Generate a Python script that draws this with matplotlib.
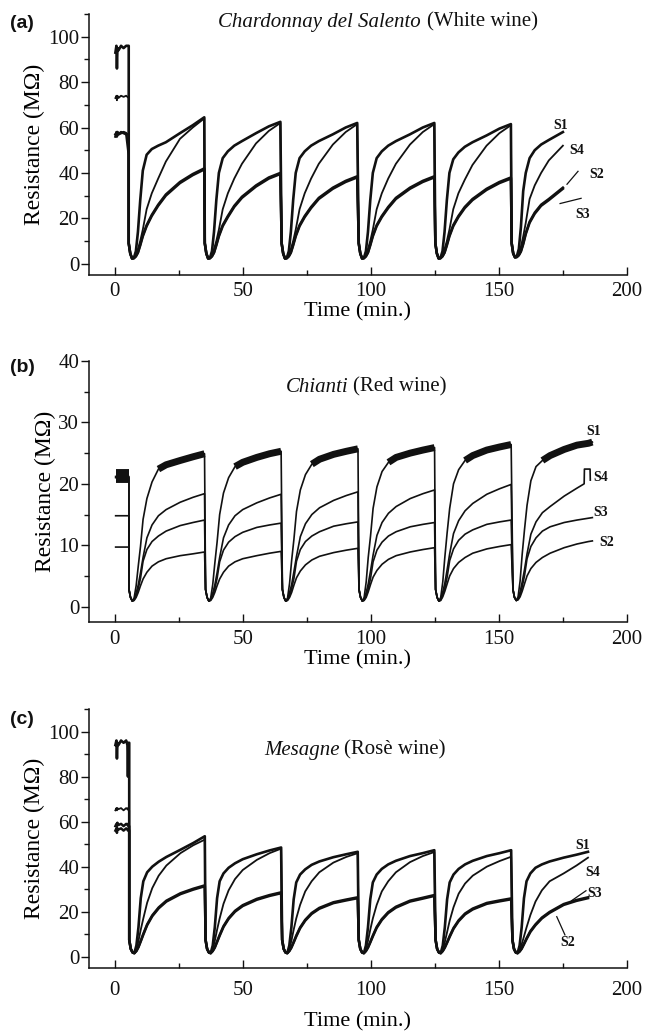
import matplotlib
matplotlib.use("Agg")
import matplotlib.pyplot as plt
from matplotlib.ticker import MultipleLocator

plt.rcParams["font.family"] = ["Liberation Serif", "DejaVu Serif"]

OFF = [0, 0.6, 1.3, 2.0, 2.8, 3.6, 4.5, 5.5, 7.0, 9.0, 11.5, 14.5, 20.0, 25.0, 29.5, 31.0]

# ---------------- (a) Chardonnay del Salento ----------------
A_T0 = [5.5, 35.2, 65.2, 95.3, 125.2, 155.0]
A_INIT_T = [0.3, 0.7, 0.9, 1.1, 1.5, 2.5, 3.5, 4.5, 5.5]
A_INIT = {
    "S1": [93, 96, 86, 95, 94, 96, 95, 96, 96],
    "S4": [73, 74, 72, 74, 73, 74, 73.5, 74, 73],
    "S2": [56, 58, 57, 58, 57, 58, 57.5, 57, 57],
    "S3": [57, 57.5, 56, 58, 57, 57.5, 58, 57.5, 48],
}
A_S1 = [
    [9, 4.5, 2.3, 2.5, 5.5, 14, 28, 41, 48, 50.5, 52, 53.5, 57.5, 61, 64.5],
    [9, 4.5, 2.3, 2.5, 5.5, 14, 28, 40, 46.5, 49.5, 52, 54, 57.5, 60.5, 62.5],
    [9, 4.5, 2.3, 2.5, 5.5, 14, 28, 40, 46.5, 49.5, 52, 54, 57, 60, 62],
    [9, 4.5, 2.3, 2.5, 5.5, 14, 28, 40, 46.5, 49.5, 52, 54, 57, 60, 62],
    [9, 4.5, 2.3, 2.5, 5.5, 14, 28, 40, 46, 49, 51.5, 53.5, 56.5, 59.5, 61.5],
    [9, 4.5, 2.8, 3.2, 6.5, 16, 32, 40, 46.5, 50, 52.5, 54.5, 58],
]
A_S4 = [
    [9, 4.5, 2.3, 2.6, 4, 6.5, 10, 15, 24, 31, 37.5, 45, 55, 60, 64],
    [9, 4.5, 2.3, 2.6, 4, 6.5, 10, 15, 24, 31, 37.5, 44, 53, 58.5, 62],
    [9, 4.5, 2.3, 2.6, 4, 6.5, 10, 15, 24, 31, 37.5, 44, 52.5, 58, 61.5],
    [9, 4.5, 2.3, 2.6, 4, 6.5, 10, 15, 24, 31, 37.5, 44, 52.5, 58, 61.5],
    [9, 4.5, 2.3, 2.6, 4, 6.5, 10, 15, 24, 31, 37, 43.5, 52, 57.5, 61],
    [9, 4.5, 2.8, 3, 4.5, 7.5, 12, 18, 28.5, 34.5, 40, 45.5, 52],
]
A_S2 = [
    [9, 4.5, 2.3, 2.4, 3.3, 5, 8.5, 12.5, 17, 21.5, 26, 30.5, 36, 39.5, 42],
    [9, 4.5, 2.3, 2.4, 3.3, 5, 8.5, 12.5, 17, 21, 25.5, 29.5, 34.5, 38, 40],
    [9, 4.5, 2.3, 2.4, 3.3, 5, 8.5, 12.5, 17, 21, 25, 29, 33.5, 36.5, 38.5],
    [9, 4.5, 2.3, 2.4, 3.3, 5, 8.5, 12.5, 17, 21, 25, 29, 33.5, 36.5, 38.5],
    [9, 4.5, 2.3, 2.4, 3.3, 5, 8.5, 12.5, 17, 21, 25, 28.5, 33, 36, 38],
    [9, 4.5, 2.8, 2.9, 3.8, 5.5, 9, 13.5, 18.5, 22.5, 26, 28.5, 33.5],
]
A_S3 = [
    [9, 4.5, 2.3, 2.4, 3.2, 4.8, 8, 12, 16.5, 21, 25.5, 30, 35.5, 39, 41.5],
    [9, 4.5, 2.3, 2.4, 3.2, 4.8, 8, 12, 16.5, 20.5, 25, 29, 34, 37.5, 39.5],
    [9, 4.5, 2.3, 2.4, 3.2, 4.8, 8, 12, 16.5, 20.5, 24.5, 28.5, 33, 36, 38],
    [9, 4.5, 2.3, 2.4, 3.2, 4.8, 8, 12, 16.5, 20.5, 24.5, 28.5, 33, 36, 38],
    [9, 4.5, 2.3, 2.4, 3.2, 4.8, 8, 12, 16.5, 20.5, 24.5, 28, 32.5, 35.5, 37.5],
    [9, 4.5, 2.8, 2.9, 3.7, 5.3, 8.5, 13, 18, 22, 25.5, 28, 33],
]

# ---------------- (b) Chianti ----------------
B_T0 = [5.6, 35.5, 65.5, 95.4, 125.3, 155.5]
B_INIT_T = [0.4, 5.6]
B_INIT = {"S1": [21.2, 21.2], "S4": [21.0, 21.0], "S3": [14.8, 14.8], "S2": [9.7, 9.7]}
B_S1 = [
    [2.8, 1.5, 0.9, 1.4, 3.4, 6.5, 9.8, 14.2, 17.6, 20.3, 22.4, 23.1, 23.8, 24.4, 24.9],
    [2.8, 1.5, 0.9, 1.4, 3.6, 7.0, 10.5, 15.0, 18.5, 21.0, 22.8, 23.5, 24.3, 24.9, 25.3],
    [2.8, 1.5, 0.9, 1.4, 3.8, 7.5, 11.0, 15.5, 19.0, 21.5, 23.2, 24.0, 24.8, 25.3, 25.7],
    [2.8, 1.5, 0.9, 1.5, 4.0, 8.0, 11.5, 16.0, 19.5, 22.0, 23.5, 24.3, 25.0, 25.5, 25.9],
    [2.8, 1.5, 0.9, 1.5, 4.0, 8.0, 12.0, 16.0, 20.0, 22.3, 23.8, 24.6, 25.5, 26.0, 26.4],
    [2.8, 1.5, 1.0, 1.6, 4.2, 8.5, 12.5, 16.5, 20.5, 22.8, 23.8, 24.6, 25.6, 26.3, 26.6, 26.8],
]
B_S4 = [
    [2.8, 1.5, 0.9, 1.2, 2.2, 3.5, 5.5, 8.0, 11.2, 13.3, 14.8, 15.8, 17.0, 17.8, 18.4],
    [2.8, 1.5, 0.9, 1.2, 2.2, 3.5, 5.5, 8.0, 11.2, 13.3, 14.8, 15.8, 16.9, 17.7, 18.3],
    [2.8, 1.5, 0.9, 1.2, 2.3, 3.6, 5.7, 8.2, 11.4, 13.5, 15.0, 16.1, 17.3, 18.1, 18.7],
    [2.8, 1.5, 0.9, 1.2, 2.3, 3.7, 5.8, 8.4, 11.6, 13.7, 15.2, 16.3, 17.6, 18.4, 19.0],
    [2.8, 1.5, 0.9, 1.3, 2.4, 3.8, 6.0, 8.6, 11.9, 14.0, 15.6, 16.8, 18.3, 19.2, 19.9],
    [2.8, 1.5, 1.0, 1.3, 2.4, 4.0, 6.0, 8.6, 11.8, 13.8, 15.3, 16.3, 18.0, 19.3],
]
B_S4_STEP_T = [183.3, 183.4, 185.6, 185.7]
B_S4_STEP_V = [20.0, 22.4, 22.4, 20.6]
B_S3 = [
    [2.8, 1.5, 0.9, 1.1, 1.8, 2.9, 4.6, 7.4, 9.3, 10.6, 11.5, 12.3, 13.2, 13.7, 14.1],
    [2.8, 1.5, 0.9, 1.1, 1.8, 2.9, 4.6, 7.3, 9.2, 10.5, 11.4, 12.1, 12.9, 13.3, 13.6],
    [2.8, 1.5, 0.9, 1.1, 1.8, 2.9, 4.6, 7.4, 9.3, 10.6, 11.5, 12.2, 13.1, 13.5, 13.8],
    [2.8, 1.5, 0.9, 1.1, 1.8, 2.9, 4.6, 7.3, 9.2, 10.5, 11.5, 12.2, 13.0, 13.4, 13.7],
    [2.8, 1.5, 0.9, 1.1, 1.9, 3.0, 4.8, 7.5, 9.4, 10.8, 11.8, 12.5, 13.4, 13.8, 14.1],
    [2.8, 1.5, 1.0, 1.2, 2.0, 3.2, 5.0, 7.8, 9.8, 11.2, 12.3, 13.0, 13.7, 14.1, 14.4, 14.5],
]
B_S2 = [
    [2.8, 1.5, 0.9, 1.0, 1.5, 2.3, 3.4, 4.5, 5.6, 6.6, 7.3, 7.8, 8.3, 8.6, 8.9],
    [2.8, 1.5, 0.9, 1.0, 1.5, 2.3, 3.4, 4.5, 5.6, 6.6, 7.3, 7.8, 8.3, 8.7, 9.0],
    [2.8, 1.5, 0.9, 1.0, 1.5, 2.3, 3.5, 4.7, 5.8, 6.8, 7.6, 8.2, 8.8, 9.2, 9.5],
    [2.8, 1.5, 0.9, 1.0, 1.5, 2.4, 3.6, 4.8, 5.9, 6.9, 7.7, 8.3, 8.9, 9.3, 9.6],
    [2.8, 1.5, 0.9, 1.0, 1.6, 2.5, 3.7, 5.0, 6.2, 7.2, 8.0, 8.7, 9.4, 9.8, 10.1],
    [2.8, 1.5, 1.0, 1.1, 1.6, 2.5, 3.7, 5.0, 6.2, 7.2, 8.0, 8.7, 9.6, 10.2, 10.6, 10.7],
]

# ---------------- (c) Mesagne ----------------
C_T0 = [5.7, 35.5, 65.4, 95.3, 125.3, 155.3]
C_INIT_T = [0.3, 0.7, 0.9, 1.1, 1.5, 2.5, 3.5, 4.5, 5.0, 5.2, 5.4, 5.7]
C_INIT = {
    "S1": [94, 96, 88, 95, 94, 96, 95, 96, 94, 80, 95, 95],
    "S4": [65, 66, 65, 66, 65.5, 66, 65, 66, 65.5, 66, 65, 65],
    "S2": [56, 57, 55, 57, 56.5, 57, 56, 57, 56.5, 56, 57, 56],
    "S3": [58, 59, 58, 59.5, 58.5, 59, 58, 59, 58.5, 59, 58, 58],
}
C_S1 = [
    [7.5, 3.5, 1.9, 1.6, 5.0, 13.0, 26.0, 33.5, 37.5, 40.0, 42.2, 44.3, 47.5, 50.5, 53.5],
    [7.5, 3.5, 1.9, 1.6, 5.0, 13.0, 26.0, 33.5, 37.0, 39.5, 41.5, 43.3, 45.5, 47.2, 48.5],
    [7.5, 3.5, 1.9, 1.6, 5.0, 13.0, 25.5, 33.0, 36.5, 38.8, 40.8, 42.3, 44.2, 45.5, 46.6],
    [7.5, 3.5, 1.9, 1.6, 5.0, 13.0, 25.5, 33.0, 36.5, 39.0, 41.0, 42.6, 44.7, 46.0, 47.3],
    [7.5, 3.5, 1.9, 1.6, 5.0, 13.0, 25.5, 33.0, 36.5, 39.0, 41.0, 42.6, 44.7, 46.0, 47.3],
    [7.5, 3.5, 1.9, 1.6, 5.0, 13.0, 26.0, 33.5, 37.0, 39.5, 41.0, 42.3, 44.0, 45.3, 46.6],
]
C_S4 = [
    [7.5, 3.5, 1.9, 1.6, 3.5, 7.0, 12.0, 17.0, 24.0, 30.5, 36.0, 40.5, 46.0, 49.5, 52.0],
    [7.5, 3.5, 1.9, 1.6, 3.5, 7.0, 12.0, 17.0, 23.5, 29.5, 34.5, 38.5, 43.0, 46.0, 48.0],
    [7.5, 3.5, 1.9, 1.6, 3.5, 7.0, 12.0, 17.0, 23.0, 29.0, 33.5, 37.5, 41.8, 44.3, 46.0],
    [7.5, 3.5, 1.9, 1.6, 3.5, 7.0, 12.0, 17.0, 23.0, 29.0, 33.5, 37.5, 42.0, 44.7, 46.5],
    [7.5, 3.5, 1.9, 1.6, 3.3, 6.5, 11.0, 16.0, 22.0, 28.0, 32.5, 36.0, 40.0, 42.5, 44.4],
    [7.5, 3.5, 1.9, 1.6, 3.0, 5.5, 9.0, 13.0, 18.5, 24.5, 29.5, 33.5, 37.0, 40.5, 44.0],
]
C_S2 = [
    [7.5, 3.5, 1.9, 1.6, 2.5, 4.2, 6.8, 9.8, 14.0, 18.0, 21.5, 24.5, 27.8, 29.8, 31.3],
    [7.5, 3.5, 1.9, 1.6, 2.5, 4.0, 6.5, 9.3, 13.2, 16.8, 20.0, 22.5, 25.3, 27.0, 28.2],
    [7.5, 3.5, 1.9, 1.6, 2.5, 4.0, 6.3, 9.0, 12.6, 16.0, 19.0, 21.3, 23.8, 25.0, 26.0],
    [7.5, 3.5, 1.9, 1.6, 2.5, 4.0, 6.3, 9.0, 12.8, 16.3, 19.4, 21.8, 24.5, 25.8, 27.0],
    [7.5, 3.5, 1.9, 1.6, 2.5, 4.0, 6.2, 8.8, 12.4, 15.8, 18.8, 21.0, 23.5, 24.6, 25.5],
    [7.5, 3.5, 1.9, 1.6, 2.3, 3.5, 5.5, 7.8, 11.0, 14.0, 17.0, 19.5, 23.0, 24.8, 26.0],
]
C_S3 = [
    [7.5, 3.5, 1.9, 1.6, 2.6, 4.4, 7.1, 10.2, 14.4, 18.4, 21.9, 24.9, 28.2, 30.2, 31.7],
    [7.5, 3.5, 1.9, 1.6, 2.6, 4.2, 6.8, 9.7, 13.6, 17.2, 20.4, 22.9, 25.7, 27.4, 28.6],
    [7.5, 3.5, 1.9, 1.6, 2.6, 4.2, 6.6, 9.4, 13.0, 16.4, 19.4, 21.7, 24.2, 25.4, 26.4],
    [7.5, 3.5, 1.9, 1.6, 2.6, 4.2, 6.6, 9.4, 13.2, 16.7, 19.8, 22.2, 24.9, 26.2, 27.4],
    [7.5, 3.5, 1.9, 1.6, 2.6, 4.2, 6.5, 9.2, 12.8, 16.2, 19.2, 21.4, 23.9, 25.0, 25.9],
    [7.5, 3.5, 1.9, 1.6, 2.4, 3.7, 5.8, 8.2, 11.4, 14.4, 17.4, 19.9, 23.4, 25.2, 26.4],
]


def build(init_t, init_v, t0s, cycles):
    t = list(init_t)
    v = list(init_v)
    for t0, vals in zip(t0s, cycles):
        t += [t0 + o for o in OFF[:len(vals)]]
        v += vals
    return t, v


fig = plt.figure(figsize=(6.45, 10.32), dpi=100)
boxes = [(0.138, 0.7335, 0.834, 0.2529),
         (0.138, 0.3973, 0.834, 0.2529),
         (0.138, 0.0620, 0.834, 0.2510)]
axes = [fig.add_axes(b) for b in boxes]

ink = "#111111"


def style(ax, ymax, ymin, ymaj, ymin_step, xpad, xlabpad):
    ax.set_xlim(-10, 200)
    ax.set_ylim(ymin, ymax)
    ax.xaxis.set_major_locator(MultipleLocator(50))
    ax.xaxis.set_minor_locator(MultipleLocator(25))
    ax.yaxis.set_major_locator(MultipleLocator(ymaj))
    ax.yaxis.set_minor_locator(MultipleLocator(ymin_step))
    for s in ["top", "right"]:
        ax.spines[s].set_visible(False)
    for s in ["left", "bottom"]:
        ax.spines[s].set_linewidth(1.1)
        ax.spines[s].set_color(ink)
    ax.tick_params(axis="y", which="both", direction="out", labelsize=15, pad=1, colors=ink)
    ax.tick_params(axis="x", which="both", direction="in", labelsize=15, pad=xpad, colors=ink)
    ax.tick_params(which="major", length=6, width=1.0)
    ax.tick_params(which="minor", length=3.5, width=1.0)
    ax.set_xlabel("Time (min.)", fontsize=16, labelpad=xlabpad)
    ax.set_ylabel("Resistance (MΩ)", fontsize=17, labelpad=2)


lab = dict(fontsize=10, fontweight="bold", ha="center", va="center", color=ink)

# (a)
ax = axes[0]
style(ax, 110, -5, 20, 10, 5, 1)
for name, cyc, lw in [("S2", A_S2, 1.8), ("S3", A_S3, 1.8), ("S4", A_S4, 1.3), ("S1", A_S1, 1.9)]:
    t, v = build(A_INIT_T, A_INIT[name], A_T0, cyc)
    ax.plot(t, v, color=ink, lw=lw)
ax.text(174.3, 61, "S1", **lab)
ax.text(180.5, 50, "S4", **lab)
ax.text(188.3, 39.4, "S2", **lab)
ax.text(182.8, 21.7, "S3", **lab)
ax.plot([176.6, 180.9], [35, 40.7], color=ink, lw=0.9)
ax.plot([173.9, 182.1], [26.5, 28.8], color=ink, lw=0.9)

# (b)
ax = axes[1]
style(ax, 40, -2.5, 10, 5, 6, 1)
for name, cyc in [("S2", B_S2), ("S3", B_S3), ("S4", B_S4), ("S1", B_S1)]:
    t, v = build(B_INIT_T, B_INIT[name], B_T0, cyc)
    if name == "S4":
        t += B_S4_STEP_T
        v += B_S4_STEP_V
    ax.plot(t, v, color=ink, lw=1.2)
# noisy plateau of S1 and its noisy start-up band
ax.plot(B_INIT_T, B_INIT["S1"], color=ink, lw=10, solid_capstyle="butt")
for t0, vals in zip(B_T0, B_S1):
    ax.plot([t0 + o for o in OFF[10:len(vals)]], vals[10:], color=ink, lw=5,
            solid_capstyle="butt")
ax.text(186.9, 28.5, "S1", **lab)
ax.text(189.8, 21.0, "S4", **lab)
ax.text(189.8, 15.4, "S3", **lab)
ax.text(192.2, 10.5, "S2", **lab)

# (c)
ax = axes[2]
style(ax, 110, -5, 20, 10, 9, 9)
for name, cyc, lw in [("S2", C_S2, 1.8), ("S3", C_S3, 1.8), ("S4", C_S4, 1.3), ("S1", C_S1, 1.9)]:
    t, v = build(C_INIT_T, C_INIT[name], C_T0, cyc)
    ax.plot(t, v, color=ink, lw=lw)
ax.text(182.8, 49.6, "S1", **lab)
ax.text(186.7, 37.2, "S4", **lab)
ax.text(187.5, 28.3, "S3", **lab)
ax.text(177.0, 6.2, "S2", **lab)
ax.plot([178.4, 184.0], [24.9, 29.3], color=ink, lw=0.9)
ax.plot([172.6, 175.8], [17.8, 9.7], color=ink, lw=0.9)

# titles: italic wine name + regular colour
titles = [("Chardonnay del Salento", "(White wine)", 421, 427, 22),
          ("Chianti", "(Red wine)", 348, 353, 387),
          ("Mesagne", "(Rosè wine)", 340, 344, 750)]
for it, rg, xr, xl, yp in titles:
    fig.text(xr / 645, 1 - yp / 1032, it, style="italic", fontsize=15, ha="right", va="center", color=ink)
    fig.text(xl / 645, 1 - yp / 1032, rg, fontsize=15, ha="left", va="center", color=ink)

for lbl, yp in [("(a)", 23), ("(b)", 367), ("(c)", 720)]:
    fig.text(10 / 645, 1 - yp / 1032, lbl, fontsize=14, fontweight="bold",
             family="Liberation Sans", ha="left", va="center", color=ink)

fig.savefig("out.png", dpi=100)
